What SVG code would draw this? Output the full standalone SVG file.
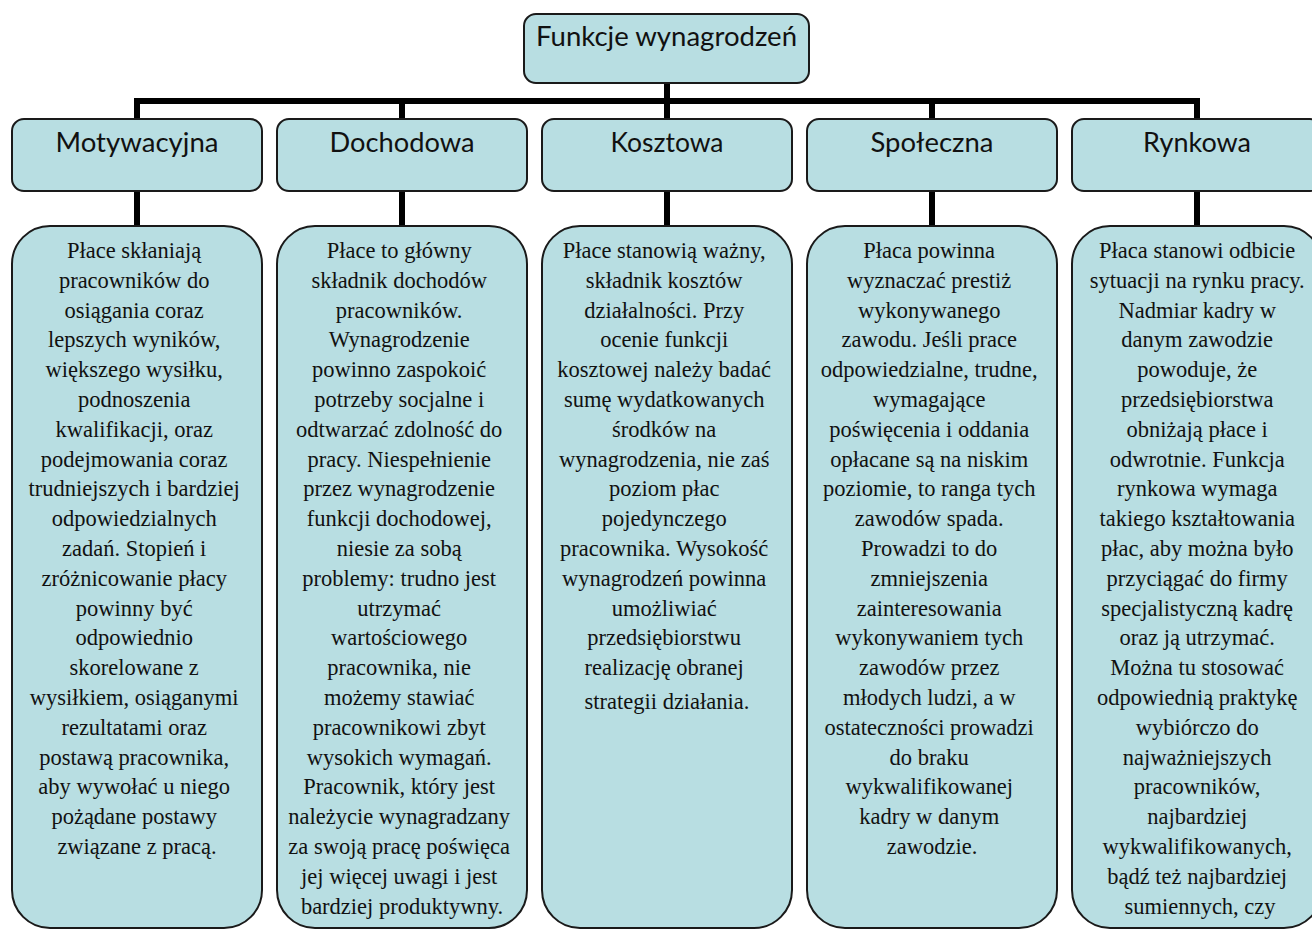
<svg xmlns="http://www.w3.org/2000/svg" width="1312" height="930" viewBox="0 0 1312 930">
<style>
.box{fill:#b8dee2;stroke:#1a1a1a;stroke-width:2}
.hd{font-family:Lato,"Open Sans",sans-serif;font-size:27px;fill:#111;text-anchor:middle}
.tx{font-family:'Liberation Serif','Tinos','DejaVu Serif',serif;font-size:22.5px;fill:#111;text-anchor:middle}
.cn{stroke:#000;stroke-width:6;fill:none}
</style>
<rect width="1312" height="930" fill="#fff"/>
<g id="connectors">
<line class="cn" x1="667" y1="83" x2="667" y2="101"/>
<polyline class="cn" points="137,226 137,101 1197,101 1197,226"/>
<line class="cn" x1="402" y1="101" x2="402" y2="226"/>
<line class="cn" x1="667" y1="101" x2="667" y2="226"/>
<line class="cn" x1="932" y1="101" x2="932" y2="226"/>
</g>
<g id="root">
<rect class="box" x="524" y="14" width="285" height="69" rx="12"/>
<text class="hd" x="666.5" y="46" font-size="24" textLength="261" lengthAdjust="spacingAndGlyphs">Funkcje wynagrodzeń</text>
</g>
<g id="h-motywacyjna">
<rect class="box" x="12" y="119" width="250" height="72" rx="12"/>
<text class="hd" x="137" y="152" textLength="163" lengthAdjust="spacingAndGlyphs">Motywacyjna</text>
</g>
<g id="h-dochodowa">
<rect class="box" x="277" y="119" width="250" height="72" rx="12"/>
<text class="hd" x="402" y="152" textLength="145" lengthAdjust="spacingAndGlyphs">Dochodowa</text>
</g>
<g id="h-kosztowa">
<rect class="box" x="542" y="119" width="250" height="72" rx="12"/>
<text class="hd" x="667" y="152" textLength="113" lengthAdjust="spacingAndGlyphs">Kosztowa</text>
</g>
<g id="h-spoleczna">
<rect class="box" x="807" y="119" width="250" height="72" rx="12"/>
<text class="hd" x="932" y="152" textLength="123" lengthAdjust="spacingAndGlyphs">Społeczna</text>
</g>
<g id="h-rynkowa">
<rect class="box" x="1072" y="119" width="250" height="72" rx="12"/>
<text class="hd" x="1197" y="152" textLength="108" lengthAdjust="spacingAndGlyphs">Rynkowa</text>
</g>
<g id="t-motywacyjna">
<rect class="box" x="12" y="226" width="250" height="702" rx="38"/>
<text class="tx" y="258">
<tspan x="137">Płace skłaniają</tspan>
<tspan x="137" dy="29.8">pracowników do</tspan>
<tspan x="137" dy="29.8">osiągania coraz</tspan>
<tspan x="137" dy="29.8">lepszych wyników,</tspan>
<tspan x="137" dy="29.8">większego wysiłku,</tspan>
<tspan x="137" dy="29.8">podnoszenia</tspan>
<tspan x="137" dy="29.8">kwalifikacji, oraz</tspan>
<tspan x="137" dy="29.8">podejmowania coraz</tspan>
<tspan x="137" dy="29.8">trudniejszych i bardziej</tspan>
<tspan x="137" dy="29.8">odpowiedzialnych</tspan>
<tspan x="137" dy="29.8">zadań. Stopień i</tspan>
<tspan x="137" dy="29.8">zróżnicowanie płacy</tspan>
<tspan x="137" dy="29.8">powinny być</tspan>
<tspan x="137" dy="29.8">odpowiednio</tspan>
<tspan x="137" dy="29.8">skorelowane z</tspan>
<tspan x="137" dy="29.8">wysiłkiem, osiąganymi</tspan>
<tspan x="137" dy="29.8">rezultatami oraz</tspan>
<tspan x="137" dy="29.8">postawą pracownika,</tspan>
<tspan x="137" dy="29.8">aby wywołać u niego</tspan>
<tspan x="137" dy="29.8">pożądane postawy</tspan>
<tspan x="137" dy="29.8">związane z pracą.</tspan>
</text>
</g>
<g id="t-dochodowa">
<rect class="box" x="277" y="226" width="250" height="702" rx="38"/>
<text class="tx" y="258">
<tspan x="402">Płace to główny</tspan>
<tspan x="402" dy="29.8">składnik dochodów</tspan>
<tspan x="402" dy="29.8">pracowników.</tspan>
<tspan x="402" dy="29.8">Wynagrodzenie</tspan>
<tspan x="402" dy="29.8">powinno zaspokoić</tspan>
<tspan x="402" dy="29.8">potrzeby socjalne i</tspan>
<tspan x="402" dy="29.8">odtwarzać zdolność do</tspan>
<tspan x="402" dy="29.8">pracy. Niespełnienie</tspan>
<tspan x="402" dy="29.8">przez wynagrodzenie</tspan>
<tspan x="402" dy="29.8">funkcji dochodowej,</tspan>
<tspan x="402" dy="29.8">niesie za sobą</tspan>
<tspan x="402" dy="29.8">problemy: trudno jest</tspan>
<tspan x="402" dy="29.8">utrzymać</tspan>
<tspan x="402" dy="29.8">wartościowego</tspan>
<tspan x="402" dy="29.8">pracownika, nie</tspan>
<tspan x="402" dy="29.8">możemy stawiać</tspan>
<tspan x="402" dy="29.8">pracownikowi zbyt</tspan>
<tspan x="402" dy="29.8">wysokich wymagań.</tspan>
<tspan x="402" dy="29.8">Pracownik, który jest</tspan>
<tspan x="402" dy="29.8">należycie wynagradzany</tspan>
<tspan x="402" dy="29.8">za swoją pracę poświęca</tspan>
<tspan x="402" dy="29.8">jej więcej uwagi i jest</tspan>
<tspan x="402" dy="29.8">bardziej produktywny.</tspan>
</text>
</g>
<g id="t-kosztowa">
<rect class="box" x="542" y="226" width="250" height="702" rx="38"/>
<text class="tx" y="258">
<tspan x="667">Płace stanowią ważny,</tspan>
<tspan x="667" dy="29.8">składnik kosztów</tspan>
<tspan x="667" dy="29.8">działalności. Przy</tspan>
<tspan x="667" dy="29.8">ocenie funkcji</tspan>
<tspan x="667" dy="29.8">kosztowej należy badać</tspan>
<tspan x="667" dy="29.8">sumę wydatkowanych</tspan>
<tspan x="667" dy="29.8">środków na</tspan>
<tspan x="667" dy="29.8">wynagrodzenia, nie zaś</tspan>
<tspan x="667" dy="29.8">poziom płac</tspan>
<tspan x="667" dy="29.8">pojedynczego</tspan>
<tspan x="667" dy="29.8">pracownika. Wysokość</tspan>
<tspan x="667" dy="29.8">wynagrodzeń powinna</tspan>
<tspan x="667" dy="29.8">umożliwiać</tspan>
<tspan x="667" dy="29.8">przedsiębiorstwu</tspan>
<tspan x="667" dy="29.8">realizację obranej</tspan>
<tspan x="667" dy="34">strategii działania.</tspan>
</text>
</g>
<g id="t-spoleczna">
<rect class="box" x="807" y="226" width="250" height="702" rx="38"/>
<text class="tx" y="258">
<tspan x="932">Płaca powinna</tspan>
<tspan x="932" dy="29.8">wyznaczać prestiż</tspan>
<tspan x="932" dy="29.8">wykonywanego</tspan>
<tspan x="932" dy="29.8">zawodu. Jeśli prace</tspan>
<tspan x="932" dy="29.8">odpowiedzialne, trudne,</tspan>
<tspan x="932" dy="29.8">wymagające</tspan>
<tspan x="932" dy="29.8">poświęcenia i oddania</tspan>
<tspan x="932" dy="29.8">opłacane są na niskim</tspan>
<tspan x="932" dy="29.8">poziomie, to ranga tych</tspan>
<tspan x="932" dy="29.8">zawodów spada.</tspan>
<tspan x="932" dy="29.8">Prowadzi to do</tspan>
<tspan x="932" dy="29.8">zmniejszenia</tspan>
<tspan x="932" dy="29.8">zainteresowania</tspan>
<tspan x="932" dy="29.8">wykonywaniem tych</tspan>
<tspan x="932" dy="29.8">zawodów przez</tspan>
<tspan x="932" dy="29.8">młodych ludzi, a w</tspan>
<tspan x="932" dy="29.8">ostateczności prowadzi</tspan>
<tspan x="932" dy="29.8">do braku</tspan>
<tspan x="932" dy="29.8">wykwalifikowanej</tspan>
<tspan x="932" dy="29.8">kadry w danym</tspan>
<tspan x="932" dy="29.8">zawodzie.</tspan>
</text>
</g>
<g id="t-rynkowa">
<rect class="box" x="1072" y="226" width="250" height="702" rx="38"/>
<text class="tx" y="258">
<tspan x="1200">Płaca stanowi odbicie</tspan>
<tspan x="1200" dy="29.8">sytuacji na rynku pracy.</tspan>
<tspan x="1200" dy="29.8">Nadmiar kadry w</tspan>
<tspan x="1200" dy="29.8">danym zawodzie</tspan>
<tspan x="1200" dy="29.8">powoduje, że</tspan>
<tspan x="1200" dy="29.8">przedsiębiorstwa</tspan>
<tspan x="1200" dy="29.8">obniżają płace i</tspan>
<tspan x="1200" dy="29.8">odwrotnie. Funkcja</tspan>
<tspan x="1200" dy="29.8">rynkowa wymaga</tspan>
<tspan x="1200" dy="29.8">takiego kształtowania</tspan>
<tspan x="1200" dy="29.8">płac, aby można było</tspan>
<tspan x="1200" dy="29.8">przyciągać do firmy</tspan>
<tspan x="1200" dy="29.8">specjalistyczną kadrę</tspan>
<tspan x="1200" dy="29.8">oraz ją utrzymać.</tspan>
<tspan x="1200" dy="29.8">Można tu stosować</tspan>
<tspan x="1200" dy="29.8">odpowiednią praktykę</tspan>
<tspan x="1200" dy="29.8">wybiórczo do</tspan>
<tspan x="1200" dy="29.8">najważniejszych</tspan>
<tspan x="1200" dy="29.8">pracowników,</tspan>
<tspan x="1200" dy="29.8">najbardziej</tspan>
<tspan x="1200" dy="29.8">wykwalifikowanych,</tspan>
<tspan x="1200" dy="29.8">bądź też najbardziej</tspan>
<tspan x="1200" dy="29.8">sumiennych, czy</tspan>
</text>
</g>
</svg>
